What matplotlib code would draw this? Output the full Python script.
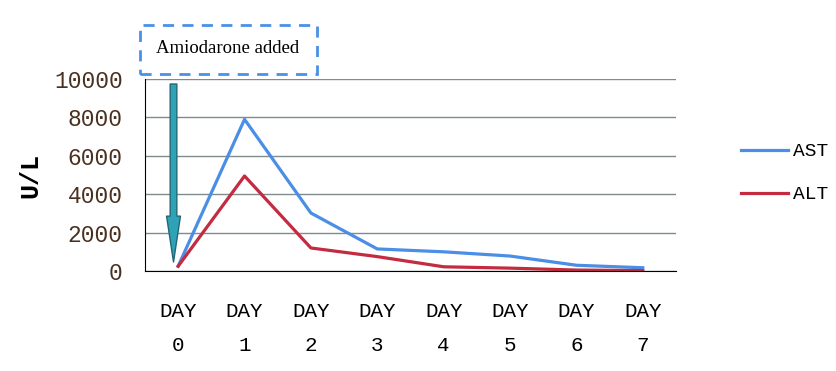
import numpy as np
import matplotlib.pyplot as plt
import matplotlib.patches as patches

# values
days = ["DAY\n0", "DAY\n1", "DAY\n2", "DAY\n3", "DAY\n4", "DAY\n5", "DAY\n6", "DAY\n7"]
ast = [250, 7900, 3020, 1150, 1000, 780, 300, 170]
alt = [250, 4950, 1200, 750, 220, 150, 50, 20]
yticks = [0, 2000, 4000, 6000, 8000, 10000]

mono = "Liberation Mono"

fig = plt.figure(figsize=(8.36, 3.71), dpi=100)
ax = fig.add_axes([0.1734, 0.2695, 0.6352, 0.5175])

x = np.arange(len(days))
ax.plot(x, ast, color="#4a8ee6", lw=2.3, label="AST")
ax.plot(x, alt, color="#c42a40", lw=2.3, label="ALT")

ax.set_xlim(-0.5, 7.5)
ax.set_ylim(0, 10000)
ax.set_yticks(yticks)
ax.set_xticks(x)
ax.set_xticklabels(days, fontfamily=mono, fontsize=15, linespacing=2.0)
ax.set_yticklabels([str(v) for v in yticks], fontfamily=mono, fontsize=16.5, color="#4a3020")
ax.tick_params(length=0)
ax.tick_params(axis="y", pad=16)
ax.tick_params(axis="x", pad=22)
ax.yaxis.grid(True, color="#7f8c8c", lw=1)
ax.set_axisbelow(True)
for s in ["top", "right"]:
    ax.spines[s].set_visible(False)
ax.spines["left"].set_color("black")
ax.spines["bottom"].set_color("black")

fig.text(0.036, 0.528, "U/L", rotation=90, fontfamily=mono, fontsize=18,
         fontweight="bold", ha="center", va="center")

# arrow marking when amiodarone was added
ax.annotate("", xy=(-0.07, 470), xytext=(-0.07, 9740),
            arrowprops=dict(arrowstyle="simple,head_length=1.65,head_width=0.5,tail_width=0.24",
                            mutation_scale=20, fc="#2fa3b5", ec="#1f6878", lw=1,
                            shrinkA=0, shrinkB=0))

box = patches.Rectangle((0.1675, 0.8005), 0.2117, 0.132, transform=fig.transFigure,
                        fill=False, ec="#4a90e8", lw=2, ls=(0, (4, 3)))
fig.patches.append(box)
fig.text(0.2727, 0.87, "Amiodarone added", fontfamily="Liberation Serif",
         fontsize=13.5, ha="center", va="center")

leg = ax.legend(loc="center left", bbox_to_anchor=(1.09, 0.51), frameon=False,
                prop={"family": mono, "size": 14}, handlelength=2.4,
                labelspacing=1.3, handletextpad=0.25)

fig.savefig("out.png", dpi=100)
